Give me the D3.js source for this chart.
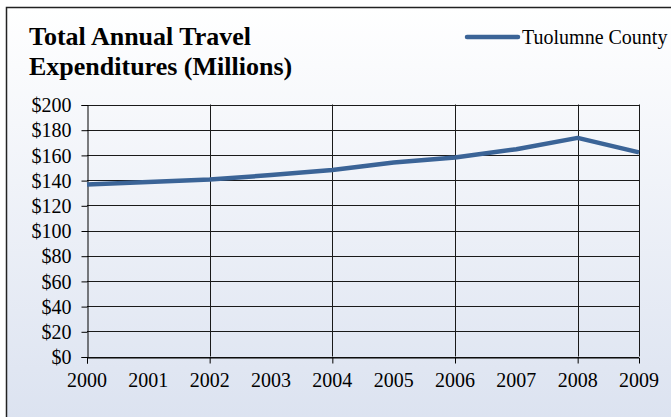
<!DOCTYPE html>
<html><head><meta charset="utf-8">
<script src="https://cdn.jsdelivr.net/npm/d3@7"></script>
<style>html,body{margin:0;padding:0;background:#fff;overflow:hidden}</style>
</head><body>
<script>
const years = [2000,2001,2002,2003,2004,2005,2006,2007,2008,2009];
const values = [136.5,138.5,140.5,144,148,154,158,164.5,173.5,162];
const yTicks = [0,20,40,60,80,100,120,140,160,180,200];
const gridYears = [2002,2004,2006,2008,2009];
const tickYears = [2000,2002,2004,2006,2008];
const seriesName = "Tuolumne County";
const titleLines = ["Total Annual Travel","Expenditures (Millions)"];

const W = 671, H = 417;
const svg = d3.select("body").append("svg").attr("width",W).attr("height",H);
const defs = svg.append("defs");
const grad = defs.append("linearGradient").attr("id","bg").attr("x1",0).attr("y1",0).attr("x2",0).attr("y2",1);
grad.append("stop").attr("offset","0%").attr("stop-color","#ffffff");
grad.append("stop").attr("offset","100%").attr("stop-color","#dbe2f0");

svg.append("rect").attr("x",6.5).attr("y",7.5).attr("width",720).attr("height",420)
  .attr("fill","url(#bg)").attr("stroke","#222").attr("stroke-width",1.5);

const x = d3.scaleLinear().domain([2000,2009]).range([87,639]);
const y = d3.scaleLinear().domain([0,200]).range([356.5,104.5]);

const serif = "'Liberation Serif','Times New Roman',serif";

// title
const t = svg.append("text").attr("font-family",serif).attr("font-weight","bold")
  .attr("font-size",26).attr("fill","#000");
titleLines.forEach((s,i)=>t.append("tspan").attr("x",29).attr("y",45+i*30).text(s));

// legend
svg.append("line").attr("x1",467).attr("x2",518).attr("y1",37).attr("y2",37)
  .attr("stroke","#3b6497").attr("stroke-width",4.5).attr("stroke-linecap","round");
svg.append("text").attr("x",522).attr("y",44).attr("font-family",serif).attr("font-size",20)
  .attr("fill","#000").text(seriesName);

// horizontal gridlines
const g = svg.append("g");
g.selectAll("line.h").data(yTicks).join("line").attr("class","h")
  .attr("x1",x(2000)).attr("x2",x(2009)).attr("y1",d=>Math.round(y(d))+0.5).attr("y2",d=>Math.round(y(d))+0.5)
  .attr("stroke","#1a1a1a").attr("stroke-width",1);
// vertical gridlines
g.selectAll("line.v").data(gridYears).join("line").attr("class","v")
  .attr("x1",d=>Math.round(x(d))+0.5).attr("x2",d=>Math.round(x(d))+0.5)
  .attr("y1",y(200)).attr("y2",y(0)).attr("stroke","#1a1a1a").attr("stroke-width",1);

// y axis
const yAxis = d3.axisLeft(y).tickValues(yTicks).tickSize(6).tickPadding(10).tickFormat(d=>"$"+d);
const ya = svg.append("g").attr("transform",`translate(${Math.round(x(2000))+0.5},0.5)`).call(yAxis);
ya.select(".domain").attr("stroke","#000");
ya.selectAll(".tick line").attr("stroke","#000");
ya.selectAll("text").attr("font-family",serif).attr("font-size",20).attr("fill","#000").attr("dy","0.33em");

// x axis
const xAxis = d3.axisBottom(x).tickValues(tickYears).tickSize(6).tickFormat("");
const xa = svg.append("g").attr("transform",`translate(0,${Math.round(y(0))+0.5})`).call(xAxis);
xa.select(".domain").attr("stroke","#000");
xa.selectAll(".tick line").attr("stroke","#000");
svg.append("g").selectAll("text").data(years).join("text")
  .attr("x",d=>x(d)).attr("y",387).attr("text-anchor","middle")
  .attr("font-family",serif).attr("font-size",20).attr("fill","#000").text(d=>d);

// line
const line = d3.line().x((d,i)=>x(years[i])).y(d=>y(d));
svg.append("path").datum(values).attr("d",line).attr("fill","none")
  .attr("stroke","#3b6497").attr("stroke-width",4.5).attr("stroke-linejoin","round");
</script>
</body></html>
